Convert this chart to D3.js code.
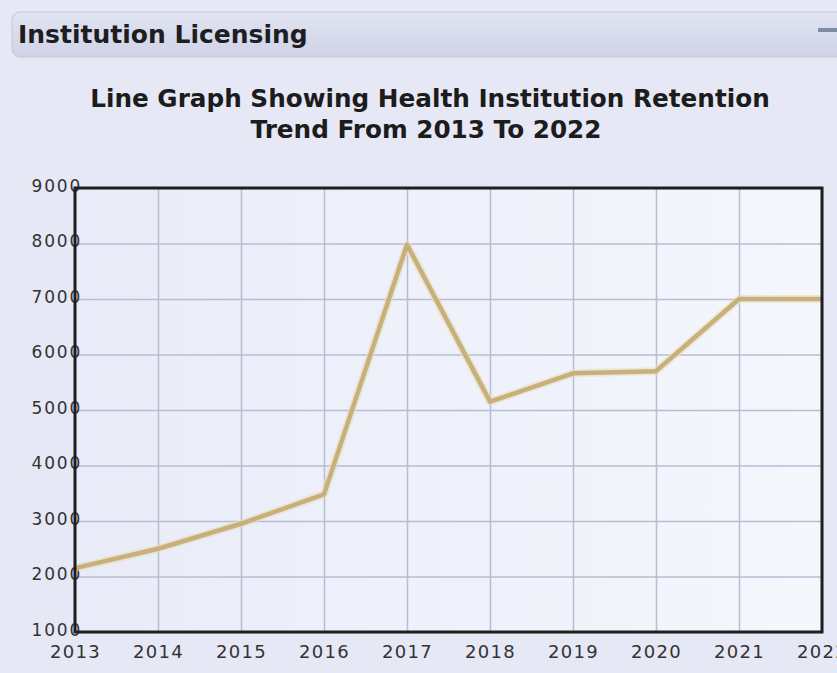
<!DOCTYPE html>
<html>
<head>
<meta charset="utf-8">
<script src="https://cdn.jsdelivr.net/npm/d3@7"></script>
<style>
  html, body { margin: 0; padding: 0; background: #e8e9f5; overflow: hidden; }
  svg { display: block; }
</style>
</head>
<body>
<svg id="chart" width="837" height="673"></svg>
<script>
const years = [2013, 2014, 2015, 2016, 2017, 2018, 2019, 2020, 2021, 2022];
const retention = [2150, 2500, 2950, 3480, 7980, 5150, 5660, 5700, 7000, 7000];
const yTicks = [1000, 2000, 3000, 4000, 5000, 6000, 7000, 8000, 9000];
const headerText = "Institution Licensing";
const titleLines = ["Line Graph Showing Health Institution Retention", "Trend From 2013 To 2022"];

const svg = d3.select("#chart");
const W = 837, H = 673;
const m = { left: 75, right: 15, top: 188, bottom: 41 };
const iw = W - m.left - m.right, ih = H - m.top - m.bottom;
const FONT = "'DejaVu Sans', Verdana, sans-serif";

const defs = svg.append("defs");
const hg = defs.append("linearGradient").attr("id", "hdr").attr("x1", 0).attr("y1", 0).attr("x2", 0).attr("y2", 1);
hg.append("stop").attr("offset", "0%").attr("stop-color", "#e1e4f2");
hg.append("stop").attr("offset", "100%").attr("stop-color", "#cfd3e6");
const pg = defs.append("linearGradient").attr("id", "plotbg").attr("x1", 0).attr("y1", 0).attr("x2", 1).attr("y2", 0);
pg.append("stop").attr("offset", "0%").attr("stop-color", "#e9ebf8");
pg.append("stop").attr("offset", "100%").attr("stop-color", "#f5f7fd");

// page background
svg.append("rect").attr("width", W).attr("height", H).attr("fill", "#e7e8f5");

// header bar
svg.append("rect").attr("x", 12).attr("y", 12).attr("width", 850).attr("height", 45)
  .attr("rx", 8).attr("fill", "url(#hdr)").attr("stroke", "#c3c7da").attr("stroke-width", 1);
svg.append("text").attr("x", 18).attr("y", 43)
  .attr("font-family", FONT).attr("font-weight", "bold")
  .attr("font-size", 25).attr("fill", "#1e1e22").text(headerText);
svg.append("rect").attr("x", 818).attr("y", 28).attr("width", 22).attr("height", 4)
  .attr("fill", "#7d8da3");

// title
const title = svg.append("text").attr("text-anchor", "middle")
  .attr("font-family", FONT).attr("font-weight", "bold")
  .attr("font-size", 23).attr("fill", "#1c1c1c");
const tTargets = [680, 370];
const tCenters = [430, 426];
titleLines.forEach((t, i) => {
  title.append("tspan").attr("x", tCenters[i]).attr("y", 107 + i * 31).text(t);
});
const first = title.select("tspan").node();
const w0 = first.getComputedTextLength();
if (w0 > 0) title.attr("font-size", 23 * tTargets[0] / w0);

const x = d3.scaleLinear().domain([2013, 2022]).range([0, iw]);
const y = d3.scaleLinear().domain([1000, 9000]).range([ih, 0]);

const g = svg.append("g").attr("transform", `translate(${m.left},${m.top})`);

// plot background
g.append("rect").attr("width", iw).attr("height", ih).attr("fill", "url(#plotbg)");

// gridlines
g.append("g").call(d3.axisLeft(y).tickValues(yTicks).tickSize(-iw).tickFormat(""))
  .call(s => s.select(".domain").remove())
  .call(s => s.selectAll("line").attr("stroke", "#b9bcd3").attr("stroke-width", 1.5));
g.append("g").attr("transform", `translate(0,${ih})`)
  .call(d3.axisBottom(x).tickValues(years).tickSize(-ih).tickFormat(""))
  .call(s => s.select(".domain").remove())
  .call(s => s.selectAll("line").attr("stroke", "#b9bcd3").attr("stroke-width", 1.5));

// y tick labels (partly hidden by the frame)
g.append("g").attr("transform", "translate(7,-2)")
  .call(d3.axisLeft(y).tickValues(yTicks).tickSize(0).tickPadding(0).tickFormat(d3.format("d")))
  .call(s => s.select(".domain").remove())
  .call(s => s.selectAll("text").attr("font-family", FONT)
    .attr("font-size", 17).attr("fill", "#333").attr("letter-spacing", 1.8));

// x tick labels
g.append("g").attr("transform", `translate(0,${ih})`)
  .call(d3.axisBottom(x).tickValues(years).tickSize(0).tickPadding(13).tickFormat(d3.format("d")))
  .call(s => s.select(".domain").remove())
  .call(s => s.selectAll("text").attr("font-family", FONT)
    .attr("font-size", 18).attr("fill", "#333").attr("letter-spacing", 1.3));

// line
const line = d3.line().x((d, i) => x(years[i])).y(d => y(d));
g.append("path").datum(retention).attr("d", line).attr("fill", "none")
  .attr("stroke", "#e9dcc0").attr("stroke-width", 8).attr("stroke-linejoin", "round").attr("opacity", 0.6);
g.append("path").datum(retention).attr("d", line).attr("fill", "none")
  .attr("stroke", "#c7b07a").attr("stroke-width", 4.5).attr("stroke-linejoin", "round");

// frame
g.append("rect").attr("width", iw).attr("height", ih).attr("fill", "none")
  .attr("stroke", "#1f1f1f").attr("stroke-width", 3);
</script>
</body>
</html>
